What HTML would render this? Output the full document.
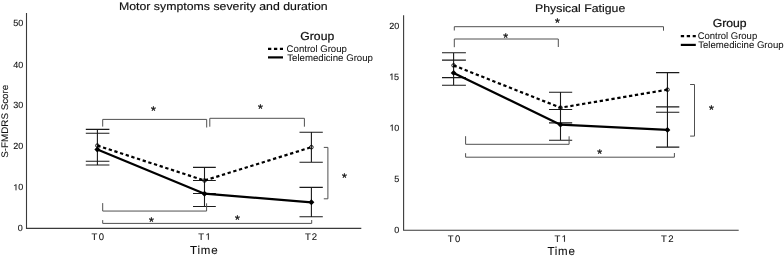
<!DOCTYPE html>
<html><head><meta charset="utf-8">
<style>
html,body{margin:0;padding:0;background:#fff;width:784px;height:258px;overflow:hidden}
svg{display:block;will-change:transform}
text{font-family:"Liberation Sans",sans-serif;text-rendering:geometricPrecision;fill:#111;stroke:#111;stroke-width:0.3px}
.ax{stroke:#3a3a3a;stroke-width:1.1;fill:none}
.eb{stroke:#1a1a1a;stroke-width:1.1;fill:none}
.br{stroke:#505050;stroke-width:1;fill:none;stroke-linejoin:round}
.sol{stroke:#000;stroke-width:2.2;fill:none;stroke-linejoin:round}
.das{stroke:#000;stroke-width:2.2;fill:none;stroke-dasharray:3.3 2.65}
</style></head><body>
<svg width="784" height="258" viewBox="0 0 784 258">
<!-- ============ LEFT CHART ============ -->
<text x="118.96" y="9.80" font-size="11" textLength="208.76" lengthAdjust="spacingAndGlyphs" style="stroke-width:0.15px">Motor symptoms severity and duration</text>
<path class="ax" d="M26.5 13V228.4H361.3"/>
<text x="13.19" y="26.35" font-size="9" style="stroke-width:0.1px">50</text>
<text x="13.19" y="67.60" font-size="9" style="stroke-width:0.1px">40</text>
<text x="13.19" y="108.45" font-size="9" style="stroke-width:0.1px">30</text>
<text x="13.19" y="149.05" font-size="9" style="stroke-width:0.1px">20</text>
<path d="M700 0H520V1180Q430 1100 340 1050Q260 1005 200 985V1150Q330 1210 440 1300Q520 1370 560 1409H700Z" transform="translate(13.32 190.35) scale(0.00439 -0.00439)" style="fill:#111;stroke:#111;stroke-width:22.8"/><text x="18.35" y="190.35" font-size="9" style="stroke-width:0.1px">0</text>
<text x="17.80" y="230.90" font-size="9" style="stroke-width:0.1px">0</text>
<text transform="translate(7.90 157.70) rotate(-90)" font-size="9.5" textLength="72.98" lengthAdjust="spacingAndGlyphs" style="stroke-width:0.1px">S-FMDRS Score</text>
<text x="91.55" y="239.80" font-size="9.5" style="stroke-width:0.08px">T</text><text x="98.86" y="239.80" font-size="9.5" style="stroke-width:0.08px">0</text>
<text x="198.15" y="239.80" font-size="9.5" style="stroke-width:0.08px">T</text><path d="M700 0H520V1180Q430 1100 340 1050Q260 1005 200 985V1150Q330 1210 440 1300Q520 1370 560 1409H700Z" transform="translate(205.51 239.80) scale(0.00464 -0.00464)" style="fill:#111;stroke:#111;stroke-width:17.2"/>
<text x="304.90" y="239.80" font-size="9.5" style="stroke-width:0.08px">T</text><text x="311.81" y="239.80" font-size="9.5" style="stroke-width:0.08px">2</text>
<text x="190.09" y="254.35" font-size="11.5" textLength="27.47" lengthAdjust="spacing" style="stroke-width:0.1px">Time</text>

<!-- legend left -->
<text x="300.30" y="39.60" font-size="11.5" textLength="33.91" lengthAdjust="spacingAndGlyphs" style="stroke-width:0.22px">Group</text>
<path class="das" d="M268 48.9H283"/>
<path class="sol" d="M268 57.4H283"/>
<text x="286.64" y="51.60" font-size="9.5" textLength="60.24" lengthAdjust="spacingAndGlyphs" style="stroke-width:0.05px">Control Group</text>
<text x="287.21" y="60.60" font-size="9.5" textLength="85.76" lengthAdjust="spacingAndGlyphs" style="stroke-width:0.05px">Telemedicine Group</text>

<!-- error bars left -->
<g class="eb">
<path d="M97.4 129.4V165M85.8 129.4H109.4M85.8 133.2H109.4M85.8 161.2H109.4M85.8 165H109.4"/>
<path d="M204.5 167.4V206.5M193 167.4H215.8M193 180.5H215.8M193 193.5H215.8M193 206.5H215.8"/>
<path d="M311.4 132.3V162.2M299.5 132.3H322.8M299.5 162.2H322.8M311.4 187.4V216.8M299.5 187.4H322.8M299.5 216.8H322.8"/>
</g>
<!-- lines left -->
<path class="das" d="M97.4 145.6L204.5 180.5L311.4 147.2"/>
<path class="sol" d="M97.4 149.5L204.5 193.7L311.4 202.3"/>
<!-- markers left -->
<g fill="none" stroke="#000" stroke-width="0.9">
<circle cx="97.4" cy="145.6" r="1.8"/><circle cx="204.5" cy="180.5" r="1.8"/><circle cx="311.4" cy="147.2" r="1.8"/>
</g>
<g fill="#000">
<path d="M97.4 146.6l3 3-3 3-3-3z"/>
<path d="M204.5 190.7l3 3-3 3-3-3z"/>
<path d="M311.4 199.3l3 3-3 3-3-3z"/>
</g>
<!-- brackets left -->
<g class="br">
<path d="M102.7 126.6V119.4H206.7V127.5"/>
<path d="M209.8 126.7V118.3H304.4V126.7"/>
<path d="M102.7 203.1V211.05H206.6V203.3"/>
<path d="M102.7 220.1V223.4H311.7V220"/>
<path d="M323.8 147.4H327.9V198.8H323.8"/>
</g>
<text x="151.06" y="114.85" font-size="12.5">*</text>
<text x="258.01" y="112.85" font-size="12.5">*</text>
<text x="149.01" y="225.85" font-size="12.5">*</text>
<text x="235.01" y="224.40" font-size="12.5">*</text>
<text x="342.01" y="182.25" font-size="12.5">*</text>

<!-- ============ RIGHT CHART ============ -->
<text x="535.07" y="12.35" font-size="11" textLength="90.20" lengthAdjust="spacingAndGlyphs" style="stroke-width:0.15px">Physical Fatigue</text>
<path class="ax" d="M403.6 15.2V230.2H738.7"/>
<text x="389.19" y="28.60" font-size="9" style="stroke-width:0.1px">20</text>
<path d="M700 0H520V1180Q430 1100 340 1050Q260 1005 200 985V1150Q330 1210 440 1300Q520 1370 560 1409H700Z" transform="translate(389.32 79.80) scale(0.00439 -0.00439)" style="fill:#111;stroke:#111;stroke-width:22.8"/><text x="394.06" y="79.80" font-size="9" style="stroke-width:0.1px">5</text>
<path d="M700 0H520V1180Q430 1100 340 1050Q260 1005 200 985V1150Q330 1210 440 1300Q520 1370 560 1409H700Z" transform="translate(389.57 130.80) scale(0.00439 -0.00439)" style="fill:#111;stroke:#111;stroke-width:22.8"/><text x="394.35" y="130.80" font-size="9" style="stroke-width:0.1px">0</text>
<text x="394.22" y="182.00" font-size="9" style="stroke-width:0.1px">5</text>
<text x="394.20" y="232.95" font-size="9" style="stroke-width:0.1px">0</text>
<text x="447.65" y="241.80" font-size="9.5" style="stroke-width:0.08px">T</text><text x="454.96" y="241.80" font-size="9.5" style="stroke-width:0.08px">0</text>
<text x="554.55" y="241.80" font-size="9.5" style="stroke-width:0.08px">T</text><path d="M700 0H520V1180Q430 1100 340 1050Q260 1005 200 985V1150Q330 1210 440 1300Q520 1370 560 1409H700Z" transform="translate(561.61 241.80) scale(0.00464 -0.00464)" style="fill:#111;stroke:#111;stroke-width:17.2"/>
<text x="661.00" y="241.80" font-size="9.5" style="stroke-width:0.08px">T</text><text x="668.21" y="241.80" font-size="9.5" style="stroke-width:0.08px">2</text>
<text x="547.39" y="255.30" font-size="11.5" textLength="27.47" lengthAdjust="spacing" style="stroke-width:0.1px">Time</text>

<!-- legend right -->
<text x="712.70" y="26.60" font-size="11.5" textLength="33.91" lengthAdjust="spacingAndGlyphs" style="stroke-width:0.22px">Group</text>
<path class="das" d="M680.8 36.1H695.8"/>
<path class="sol" d="M680.8 44.9H695.8"/>
<text x="697.64" y="38.60" font-size="9.5" textLength="59.53" lengthAdjust="spacingAndGlyphs" style="stroke-width:0.05px">Control Group</text>
<text x="698.21" y="48.10" font-size="9.5" textLength="85.36" lengthAdjust="spacingAndGlyphs" style="stroke-width:0.05px">Telemedicine Group</text>

<g class="eb">
<path d="M453.6 52.8V85.3M442 52.8H465.9M442 60.1H465.9M442 77.6H465.9M442 85.3H465.9"/>
<path d="M560.5 92.3V140.2M549 92.3H572.2M549 109.5H572.2M549 122.9H572.2M549 140.2H572.2"/>
<path d="M667.45 72.6V147.1M656 72.6H679.3M656 106.9H679.3M656 112.2H679.3M656 147.1H679.3"/>
</g>
<path class="das" d="M453.6 65.4L560.5 107.7L667.45 89.7"/>
<path class="sol" d="M453.6 72.9L560.5 124.7L667.45 129.9"/>
<g fill="none" stroke="#000" stroke-width="0.9">
<circle cx="453.6" cy="65.4" r="1.8"/><circle cx="560.5" cy="107.7" r="1.8"/><circle cx="667.45" cy="89.7" r="1.8"/>
</g>
<g fill="#000">
<path d="M453.6 70l2.9 2.9-2.9 2.9-2.9-2.9z"/>
<path d="M560.5 121.8l2.9 2.9-2.9 2.9-2.9-2.9z"/>
<path d="M667.45 127l2.9 2.9-2.9 2.9-2.9-2.9z"/>
</g>
<g class="br">
<path d="M454.3 30.5V26.7H663.5V30.7"/>
<path d="M454.3 47.2V39H558.3V47"/>
<path d="M465.6 136.2V144.3H569.1V136.3"/>
<path d="M465.6 153.2V157.2H674.4V153"/>
<path d="M690.1 84.5H694.5V136.1H690.1"/>
</g>
<text x="555.11" y="27.00" font-size="12.5">*</text>
<text x="503.16" y="41.80" font-size="12.5">*</text>
<text x="597.26" y="157.80" font-size="12.5">*</text>
<text x="709.01" y="113.70" font-size="12.5">*</text>
</svg>
</body></html>
